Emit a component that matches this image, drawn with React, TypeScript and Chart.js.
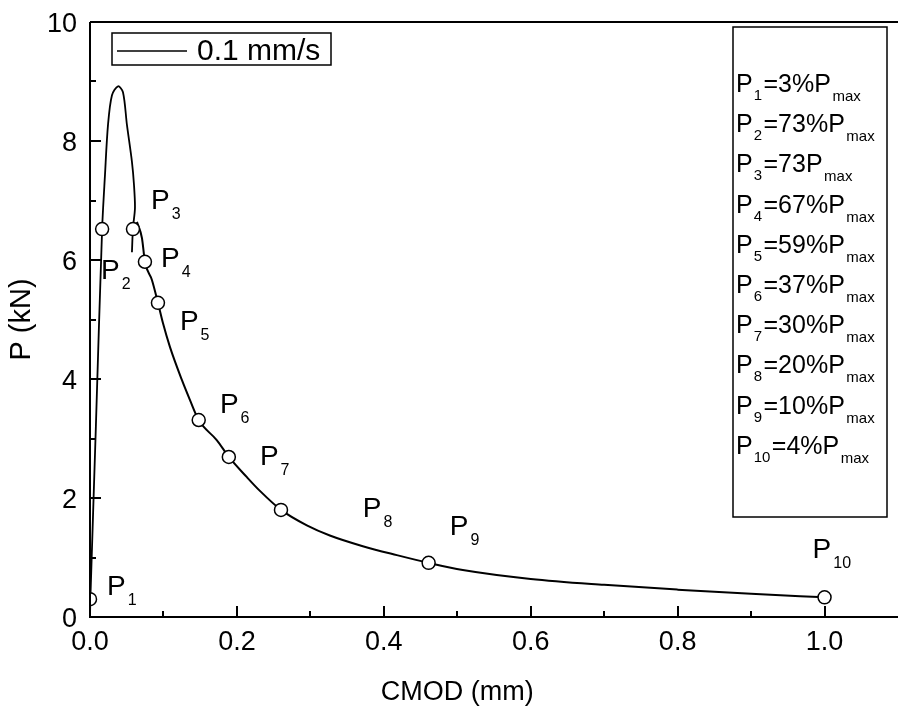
import React, { useEffect, useRef } from 'react';
import { Chart, registerables } from 'chart.js';

Chart.register(...registerables);

const FONT = "'Liberation Sans', Arial, Helvetica, sans-serif";

// Axis ticks
const xTicks = [0, 0.2, 0.4, 0.6, 0.8, 1.0];
const xTickLabels = ['0.0', '0.2', '0.4', '0.6', '0.8', '1.0'];
const xMinorTicks = [0.1, 0.3, 0.5, 0.7, 0.9];
const yTicks = [0, 2, 4, 6, 8, 10];
const yTickLabels = ['0', '2', '4', '6', '8', '10'];
const yMinorTicks = [1, 3, 5, 7, 9];

// Curve: loading branch up to peak and first drop
const loadingCmod = [0, 0.0005, 0.008, 0.0165, 0.0204, 0.0245, 0.0299, 0.0381, 0.0449, 0.0503, 0.0571, 0.0599, 0.0612, 0.0585, 0.0571];
const loadingP = [0, 0.3, 3.2, 6.52, 7.43, 8.27, 8.77, 8.92, 8.82, 8.27, 7.65, 7.26, 6.87, 6.54, 6.13];

// Curve: softening branch
const softeningCmod = [0.0639, 0.0707, 0.0748, 0.0844, 0.0925, 0.0993, 0.1088, 0.1252, 0.136, 0.148, 0.1728, 0.189, 0.2136, 0.2313, 0.26, 0.2952, 0.3265, 0.3714, 0.4177, 0.461, 0.5075, 0.6, 0.7, 0.8, 0.9, 1.0];
const softeningP = [6.64, 6.37, 5.97, 5.66, 5.28, 4.94, 4.54, 3.98, 3.65, 3.31, 2.97, 2.69, 2.35, 2.12, 1.80, 1.54, 1.37, 1.19, 1.04, 0.91, 0.79, 0.64, 0.54, 0.46, 0.39, 0.33];

// Marked points P1..P10
const markerNames = ['1', '2', '3', '4', '5', '6', '7', '8', '9', '10'];
const markerCmod = [0, 0.0165, 0.0585, 0.0748, 0.0925, 0.148, 0.189, 0.26, 0.461, 1.0];
const markerP = [0.30, 6.52, 6.52, 5.97, 5.28, 3.31, 2.69, 1.80, 0.91, 0.33];
const markerRatio = ['3%', '73%', '73', '67%', '59%', '37%', '30%', '20%', '10%', '4%'];

// Point-label anchors (data units)
const labelCmod = [0.0231, 0.0150, 0.0830, 0.0966, 0.1224, 0.1769, 0.2313, 0.3714, 0.4898, 0.9837];
const labelP = [0.37, 5.68, 6.86, 5.88, 4.82, 3.43, 2.55, 1.68, 1.38, 0.99];

const legendText = '0.1 mm/s';
const xTitle = 'CMOD (mm)';
const yTitle = 'P (kN)';

function drawSubText(ctx: CanvasRenderingContext2D, x: number, y: number, main: string, mainSize: number, sub: string, subSize: number, subDy: number, gap: number) {
  ctx.font = `${mainSize}px ${FONT}`;
  ctx.fillText(main, x, y);
  const w = ctx.measureText(main).width;
  ctx.font = `${subSize}px ${FONT}`;
  ctx.fillText(sub, x + w + gap, y + subDy);
  return x + w + gap + ctx.measureText(sub).width;
}

const decorPlugin = {
  id: 'decor',
  afterDraw(chart: any) {
    const ctx: CanvasRenderingContext2D = chart.ctx;
    const xs = chart.scales.x;
    const ys = chart.scales.y;
    const { left, right, top, bottom } = chart.chartArea;
    ctx.save();
    ctx.fillStyle = '#000';
    ctx.strokeStyle = '#000';
    ctx.lineCap = 'butt';

    // frame
    ctx.lineWidth = 2;
    ctx.beginPath();
    ctx.moveTo(left, top);
    ctx.lineTo(left, bottom);
    ctx.lineTo(right, bottom);
    ctx.moveTo(left, top);
    ctx.lineTo(right, top);
    ctx.stroke();

    // ticks (inward)
    ctx.lineWidth = 2;
    ctx.beginPath();
    xTicks.forEach((v) => {
      const px = Math.round(xs.getPixelForValue(v));
      ctx.moveTo(px, bottom);
      ctx.lineTo(px, bottom - 11);
    });
    xMinorTicks.forEach((v) => {
      const px = Math.round(xs.getPixelForValue(v));
      ctx.moveTo(px, bottom);
      ctx.lineTo(px, bottom - 6);
    });
    yTicks.forEach((v) => {
      const py = Math.round(ys.getPixelForValue(v));
      ctx.moveTo(left, py);
      ctx.lineTo(left + 11, py);
    });
    yMinorTicks.forEach((v) => {
      const py = Math.round(ys.getPixelForValue(v));
      ctx.moveTo(left, py);
      ctx.lineTo(left + 6, py);
    });
    ctx.stroke();

    // tick labels
    ctx.font = `27px ${FONT}`;
    ctx.textBaseline = 'alphabetic';
    ctx.textAlign = 'center';
    xTicks.forEach((v, i) => {
      ctx.fillText(xTickLabels[i], xs.getPixelForValue(v), bottom + 33);
    });
    ctx.textAlign = 'right';
    yTicks.forEach((v, i) => {
      ctx.fillText(yTickLabels[i], left - 13, ys.getPixelForValue(v) + 10);
    });

    // axis titles
    ctx.font = `27px ${FONT}`;
    ctx.textAlign = 'center';
    ctx.fillText(xTitle, xs.getPixelForValue(0.5), bottom + 83);
    ctx.save();
    ctx.translate(30, (top + bottom) / 2);
    ctx.rotate(-Math.PI / 2);
    ctx.font = `29px ${FONT}`;
    ctx.fillText(yTitle, 0, 0);
    ctx.restore();

    // legend box
    ctx.textAlign = 'left';
    ctx.lineWidth = 1.5;
    ctx.strokeRect(112, 33, 219, 32);
    ctx.beginPath();
    ctx.moveTo(117, 51);
    ctx.lineTo(187, 51);
    ctx.stroke();
    ctx.font = `30px ${FONT}`;
    ctx.fillText(legendText, 197, 60);

    // right info box
    ctx.lineWidth = 1.5;
    ctx.strokeRect(733, 27, 154, 490);
    markerNames.forEach((n, i) => {
      const base = 92 + i * 40.2;
      let x = drawSubText(ctx, 736, base, 'P', 25, n, 15, 8, 1);
      x = drawSubText(ctx, x + 1.5, base, `=${markerRatio[i]}P`, 25, 'max', 15, 9, 1.5);
    });

    // point labels
    markerNames.forEach((n, i) => {
      const px = xs.getPixelForValue(labelCmod[i]);
      const py = ys.getPixelForValue(labelP[i]);
      drawSubText(ctx, px, py, 'P', 28, n, 16, 10, 2);
    });

    ctx.restore();
  },
};

export default function App() {
  const ref = useRef<HTMLCanvasElement | null>(null);
  useEffect(() => {
    if (!ref.current) return;
    const chart = new Chart(ref.current, {
      type: 'scatter',
      data: {
        datasets: [
          {
            label: 'markers',
            data: markerCmod.map((x, i) => ({ x, y: markerP[i] })),
            showLine: false,
            pointRadius: 6.5,
            pointBackgroundColor: '#fff',
            pointBorderColor: '#000',
            pointBorderWidth: 1.5,
            clip: 0,
          },
          {
            label: 'loading',
            data: loadingCmod.map((x, i) => ({ x, y: loadingP[i] })),
            showLine: true,
            pointRadius: 0,
            borderColor: '#000',
            borderWidth: 1.8,
            tension: 0.3,
          },
          {
            label: 'softening',
            data: softeningCmod.map((x, i) => ({ x, y: softeningP[i] })),
            showLine: true,
            pointRadius: 0,
            borderColor: '#000',
            borderWidth: 2,
            cubicInterpolationMode: 'monotone',
          },
        ],
      } as any,
      options: {
        animation: false,
        responsive: false,
        events: [],
        layout: { autoPadding: false, padding: { left: 90, top: 22, right: 0, bottom: 103 } },
        plugins: { legend: { display: false }, tooltip: { enabled: false } },
        scales: {
          x: { type: 'linear', min: 0, max: 1.1, display: false },
          y: { type: 'linear', min: 0, max: 10, display: false },
        },
      },
      plugins: [decorPlugin],
    });
    return () => chart.destroy();
  }, []);
  return (
    <canvas
      ref={ref}
      width={898}
      height={720}
      style={{ position: 'absolute', left: 0, top: 0, display: 'block', background: '#fff' }}
    />
  );
}
